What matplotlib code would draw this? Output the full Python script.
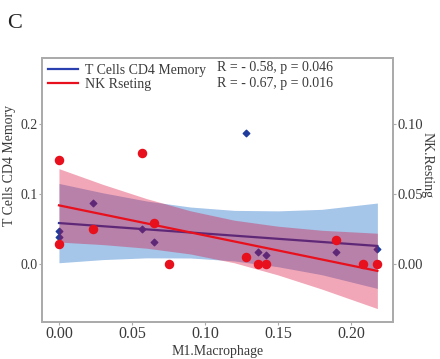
import matplotlib
matplotlib.use('Agg')
import matplotlib.pyplot as plt
from matplotlib.ticker import FormatStrFormatter

plt.rcParams['font.family'] = ['Liberation Serif', 'DejaVu Serif']

# T Cells CD4 Memory (left axis)
cd4_x = [0.0, 0.0, 0.023, 0.057, 0.065, 0.128, 0.136, 0.142, 0.190, 0.218]
cd4_y = [0.047, 0.039, 0.087, 0.050, 0.031, 0.187, 0.017, 0.013, 0.017, 0.021]

# NK resting (right axis)
nk_x = [0.0, 0.0, 0.023, 0.057, 0.065, 0.075, 0.128, 0.136, 0.142, 0.190, 0.208, 0.218]
nk_y = [0.074, 0.014, 0.025, 0.079, 0.029, 0.000, 0.005, 0.000, 0.000, 0.017, 0.000, 0.000]

# fitted lines and confidence bands
band_x = [0.0, 0.03, 0.06, 0.09, 0.12, 0.15, 0.18, 0.218]
cd4_fit = [0.0584, 0.0539, 0.0493, 0.0449, 0.0404, 0.0359, 0.0313, 0.0257]
cd4_lo = [0.0017, 0.0062, 0.0087, 0.0085, 0.0043, -0.0040, -0.0154, -0.0350]
cd4_hi = [0.1150, 0.1016, 0.0899, 0.0813, 0.0765, 0.0758, 0.0780, 0.0870]
nk_fit = [0.0419, 0.0354, 0.0290, 0.0226, 0.0161, 0.0096, 0.0031, -0.0049]
nk_lo = [0.0157, 0.0139, 0.0113, 0.0072, 0.0009, -0.0078, -0.0179, -0.0318]
nk_hi = [0.0681, 0.0569, 0.0467, 0.0380, 0.0313, 0.0270, 0.0241, 0.0220]

labels = ["T Cells CD4 Memory", "NK Rseting"]
stats = ["R = - 0.58, p = 0.046", "R = - 0.67, p = 0.016"]

c_blue = '#1f3c9c'
c_red = '#e8101c'
c_spine = '#ababab'
c_text = '#3a3a3a'
fs = 10

fig = plt.figure(figsize=(4.4, 3.59), dpi=100)
ax = fig.add_axes([0.0955, 0.103, 0.798, 0.735])
ax2 = ax.twinx()

# left axis: CD4 memory
ax.fill_between(band_x, cd4_lo, cd4_hi, color='#1e6ec8', alpha=0.4, lw=0)
ax.scatter(cd4_x, cd4_y, marker='D', s=11, color=c_blue, zorder=3)
l1, = ax.plot([band_x[0], band_x[-1]], [cd4_fit[0], cd4_fit[-1]], color=c_blue, lw=1.6)

# right axis: NK resting, drawn over the first axes
ax2.fill_between(band_x, nk_lo, nk_hi, color='#d90333', alpha=0.35, lw=0)
l2, = ax2.plot([band_x[0], band_x[-1]], [nk_fit[0], nk_fit[-1]], color=c_red, lw=1.6)
ax2.scatter(nk_x, nk_y, marker='o', s=34, color=c_red, zorder=3)

ax.set_xlim(-0.0116, 0.2288)
ax.set_ylim(-0.083, 0.294)
ax2.set_ylim(-0.0414, 0.147)

ax.set_xticks([0.0, 0.05, 0.10, 0.15, 0.20])
ax.xaxis.set_major_formatter(FormatStrFormatter('%.2f'))
ax.set_yticks([0.0, 0.1, 0.2])
ax.yaxis.set_major_formatter(FormatStrFormatter('%.1f'))
ax2.set_yticks([0.0, 0.05, 0.10])
ax2.yaxis.set_major_formatter(FormatStrFormatter('%.2f'))

for a in (ax, ax2):
    a.tick_params(length=2, width=0.8, color=c_spine, labelsize=fs,
                  labelcolor=c_text, pad=1)
    for s in a.spines.values():
        s.set_color(c_spine)
        s.set_linewidth(1.3)
ax.tick_params(axis='x', labelsize=11.5)
ax2.tick_params(axis='y', labelsize=10.5)

ax.set_xlabel("M1.Macrophage", fontsize=fs, color=c_text, labelpad=2)
ax.set_ylabel("T Cells CD4 Memory", fontsize=fs, color=c_text)
ax2.set_ylabel("NK.Resting", fontsize=fs, color=c_text, rotation=270)
ax.yaxis.set_label_coords(-0.075, 0.595)
ax2.yaxis.set_label_coords(1.115, 0.595)

leg = ax2.legend([l1, l2], labels, loc='upper left', bbox_to_anchor=(0, 1),
                 frameon=False, fontsize=fs, handlelength=2.2,
                 handletextpad=0.5, labelspacing=0.1,
                 borderaxespad=0.15, borderpad=0.25)
leg.get_lines()[0].set_color('#2a3fb0')
for txt in leg.get_texts():
    txt.set_color(c_text)
for i, t in enumerate(stats):
    ax2.text(0.499, 0.966 - i * 0.061, t, transform=ax2.transAxes,
             fontsize=fs, color=c_text, va='center', ha='left')

fig.text(0.016, 0.922, "C", fontsize=16, color='#222222')

fig.savefig('out.png', dpi=100, facecolor='white')
